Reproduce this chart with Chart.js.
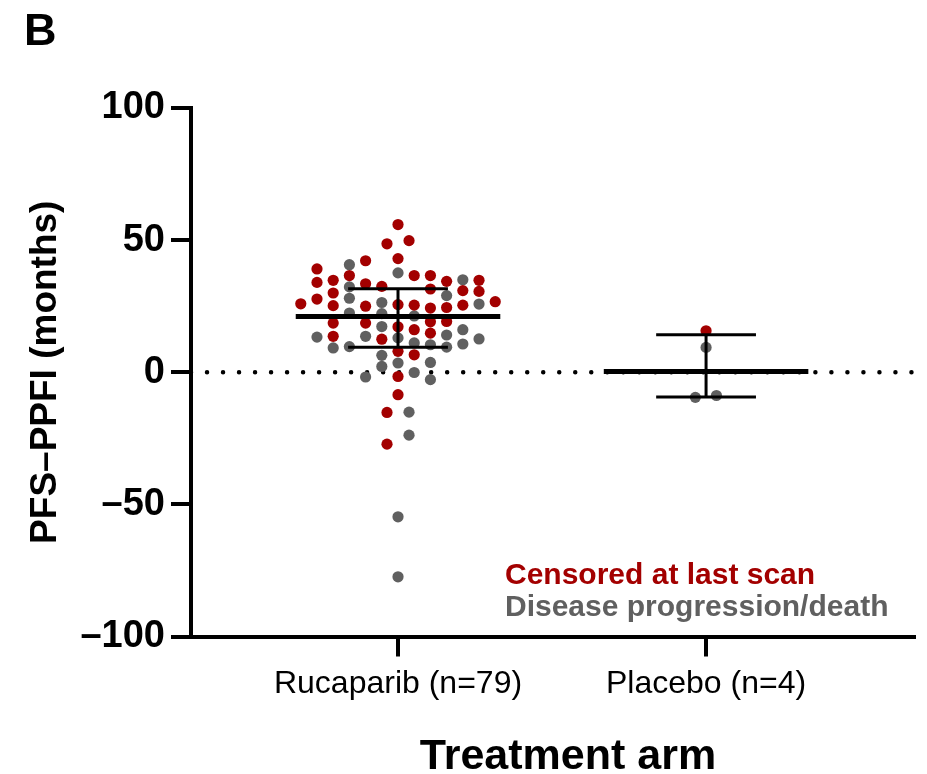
<!DOCTYPE html>
<html>
<head>
<meta charset="utf-8">
<script src="https://cdn.jsdelivr.net/npm/chart.js@4"></script>
<style>
  html, body { margin: 0; padding: 0; background: #fff; }
  #wrap { width: 927px; height: 774px; }
</style>
</head>
<body>
<div id="wrap"><canvas id="chart" width="927" height="774"></canvas></div>
<script>
const arms = ["Rucaparib (n=79)", "Placebo (n=4)"];
const yTicks = [-100, -50, 0, 50, 100];

// Rucaparib, censored at last scan (swarm slot, months)
const rucaCensoredSlot = [0, -0.68, 0.68, 0, -2, -3, -5, -5, -5, -4, -4, -4, -6, -2, -1, -2, 0, 1, 1, 2, 2, 2, 2, 2, 3, 3, 3, 4, 4, 5, 5, 6, -4, -4, -2, -1, 0, 1, 0, 1, 0, 0, -0.68, -0.68];
const rucaCensoredValue = [55.9, 48.6, 49.8, 43.0, 42.2, 36.6, 39.1, 34.0, 27.7, 34.8, 30.0, 25.2, 25.9, 33.5, 32.5, 25.0, 25.6, 36.6, 25.4, 36.6, 31.5, 24.3, 19.1, 14.8, 34.4, 24.5, 19.2, 30.9, 25.4, 34.8, 30.6, 26.7, 18.6, 13.6, 18.6, 12.5, 17.2, 16.1, 7.9, 6.6, -1.6, -8.5, -15.2, -27.2];

// Rucaparib, disease progression/death
const rucaProgSlot = [0, -3, -3, -3, -3, -1, -1, 1, 3, 4, 5, 5, -5, -4, -3, -2, -1, 0, 1, 2, 3, 3, 4, 4, -1, -1, 0, 1, 2, 2, -2, 0.68, 0.68, 0, 0];
const rucaProgValue = [37.6, 40.7, 32.3, 28.0, 22.4, 26.4, 22.2, 21.3, 29.0, 35.0, 25.8, 12.6, 13.3, 9.2, 9.7, 13.6, 17.3, 13.0, 11.1, 10.4, 14.1, 9.5, 16.1, 10.7, 6.4, 2.2, 3.5, -0.1, 3.7, -2.8, -1.8, -15.1, -23.8, -54.7, -77.4];

// Placebo
const placCensoredSlot = [0];
const placCensoredValue = [15.7];
const placProgSlot = [0, -0.66, 0.64];
const placProgValue = [9.4, -9.5, -8.8];

// summary lines per arm
const medians = [21.1, 0.3];
const upperBars = [31.6, 14.2];
const lowerBars = [9.5, -9.4];

const RED = "#a30000";
const GREY = "#606060";
const FONT = "'Liberation Sans', Arial, sans-serif";
const SLOT_W = 0.0526;
const MEDIAN_HALF = 0.332;
const CAP_HALF = 0.162;

function swarm(arm, slots, values) {
  return values.map((v, i) => ({ x: arm + slots[i] * SLOT_W, y: v }));
}

function segment(points, width) {
  return {
    type: "line",
    data: points,
    borderColor: "#000",
    borderWidth: width,
    pointRadius: 0,
    showLine: true,
    fill: false,
    order: 0,
  };
}

const datasets = [];
medians.forEach((m, arm) => {
  datasets.push(segment([{ x: arm - MEDIAN_HALF, y: m }, { x: arm + MEDIAN_HALF, y: m }], 5));
  datasets.push(segment([{ x: arm - CAP_HALF, y: upperBars[arm] }, { x: arm + CAP_HALF, y: upperBars[arm] }], 3));
  datasets.push(segment([{ x: arm - CAP_HALF, y: lowerBars[arm] }, { x: arm + CAP_HALF, y: lowerBars[arm] }], 3));
  datasets.push(segment([{ x: arm, y: upperBars[arm] }, { x: arm, y: lowerBars[arm] }], 3));
});

const pointStyle = (color) => ({
  type: "scatter",
  backgroundColor: color,
  borderWidth: 0,
  pointRadius: 5.6,
  order: 1,
});

datasets.push({ ...pointStyle(RED), data: swarm(0, rucaCensoredSlot, rucaCensoredValue) });
datasets.push({ ...pointStyle(GREY), data: swarm(0, rucaProgSlot, rucaProgValue) });
datasets.push({ ...pointStyle(RED), data: swarm(1, placCensoredSlot, placCensoredValue) });
datasets.push({ ...pointStyle(GREY), data: swarm(1, placProgSlot, placProgValue) });

// dotted zero reference line
datasets.push({
  type: "line",
  data: [{ x: -0.672, y: 0 }, { x: 1.675, y: 0 }],
  borderColor: "#000",
  borderWidth: 4.5,
  borderDash: [0.01, 16],
  borderCapStyle: "round",
  pointRadius: 0,
  order: 2,
});

const decor = {
  id: "decor",
  afterDraw(chart) {
    const ctx = chart.ctx;
    ctx.save();
    ctx.textAlign = "left";
    ctx.textBaseline = "alphabetic";
    ctx.fillStyle = "#000";
    ctx.font = `bold 45px ${FONT}`;
    ctx.fillText("B", 24, 45);
    ctx.textAlign = "center";
    ctx.font = `bold 43px ${FONT}`;
    ctx.fillText("Treatment arm", 568, 769);
    ctx.textAlign = "left";
    ctx.font = `bold 30px ${FONT}`;
    ctx.fillStyle = RED;
    ctx.fillText("Censored at last scan", 505, 584);
    ctx.fillStyle = GREY;
    ctx.fillText("Disease progression/death", 505, 616);
    ctx.restore();
  },
};

new Chart(document.getElementById("chart"), {
  type: "scatter",
  data: { datasets },
  plugins: [decor],
  options: {
    responsive: false,
    animation: false,
    layout: { padding: { top: 108, right: 13, bottom: 0, left: 0 } },
    plugins: { legend: { display: false }, tooltip: { enabled: false } },
    scales: {
      x: {
        type: "linear",
        min: -0.672,
        max: 1.675,
        afterBuildTicks: (scale) => { scale.ticks = arms.map((_, i) => ({ value: i })); },
        afterFit: (scale) => { scale.height = 137.5; },
        border: { color: "#000", width: 4 },
        grid: { drawOnChartArea: false, drawTicks: true, tickLength: 20, lineWidth: 4, color: "#000" },
        ticks: {
          color: "#000",
          padding: 8,
          maxRotation: 0,
          font: { family: FONT, size: 32 },
          callback: (v) => arms[v] ?? "",
        },
      },
      y: {
        min: -100,
        max: 100,
        afterBuildTicks: (scale) => { scale.ticks = yTicks.map((v) => ({ value: v })); },
        afterFit: (scale) => { scale.width = 191; },
        border: { color: "#000", width: 4 },
        grid: { drawOnChartArea: false, drawTicks: true, tickLength: 20, lineWidth: 4, color: "#000" },
        ticks: {
          color: "#000",
          padding: 6,
          font: { family: FONT, size: 38, weight: "bold" },
          callback: (v) => (v < 0 ? "\u2013" + Math.abs(v) : String(v)),
        },
        title: {
          display: true,
          text: "PFS\u2013PPFI (months)",
          color: "#000",
          padding: { top: 24, bottom: 0 },
          font: { family: FONT, size: 37, weight: "bold" },
        },
      },
    },
  },
});
</script>
</body>
</html>
